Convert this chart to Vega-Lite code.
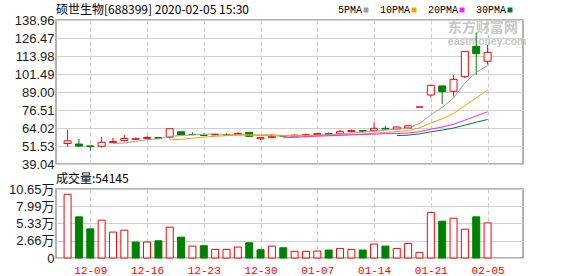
{
  "$schema": "https://vega.github.io/schema/vega-lite/v6.json",
  "padding": {"left": 5, "top": 3, "right": 5, "bottom": 0},
  "background": "white",
  "config": {
    "view": {"stroke": "#999999", "strokeWidth": 1.5},
    "axis": {"gridColor": "#d0d0d0", "gridWidth": 1, "domain": false, "ticks": false, "title": null, "labelFlush": false, "labelOverlap": false},
    "title": {"anchor": "start", "font": "Noto Sans CJK SC", "fontSize": 12, "fontWeight": "normal", "color": "#000000", "frame": "group"}
  },
  "datasets": {
    "k": [
      {"i": 0, "d": "12-05", "o": 53.2, "h": 63.0, "l": 51.0, "c": 55.1, "dir": "up", "v": 98300, "vdir": "up"},
      {"i": 1, "d": "12-06", "o": 52.9, "h": 56.5, "l": 50.8, "c": 51.5, "dir": "down", "v": 63500, "vdir": "down"},
      {"i": 2, "d": "12-09", "o": 51.6, "h": 51.6, "l": 48.2, "c": 51.1, "dir": "down", "v": 45000, "vdir": "down"},
      {"i": 3, "d": "12-10", "o": 51.3, "h": 57.9, "l": 50.4, "c": 54.1, "dir": "up", "v": 58400, "vdir": "up"},
      {"i": 4, "d": "12-11", "o": 53.9, "h": 57.2, "l": 53.9, "c": 54.6, "dir": "up", "v": 40000, "vdir": "up"},
      {"i": 5, "d": "12-12", "o": 55.3, "h": 59.1, "l": 54.6, "c": 56.7, "dir": "up", "v": 43000, "vdir": "up"},
      {"i": 6, "d": "12-13", "o": 56.2, "h": 57.3, "l": 55.8, "c": 56.6, "dir": "up", "v": 24600, "vdir": "down"},
      {"i": 7, "d": "12-16", "o": 56.8, "h": 58.4, "l": 56.5, "c": 57.4, "dir": "up", "v": 24600, "vdir": "up"},
      {"i": 8, "d": "12-17", "o": 57.4, "h": 57.5, "l": 56.8, "c": 56.9, "dir": "down", "v": 26600, "vdir": "down"},
      {"i": 9, "d": "12-18", "o": 57.7, "h": 63.6, "l": 56.7, "c": 63.5, "dir": "up", "v": 47600, "vdir": "up"},
      {"i": 10, "d": "12-19", "o": 61.4, "h": 61.4, "l": 59.3, "c": 59.3, "dir": "down", "v": 32200, "vdir": "down"},
      {"i": 11, "d": "12-20", "o": 59.6, "h": 61.0, "l": 59.3, "c": 59.4, "dir": "down", "v": 18400, "vdir": "up"},
      {"i": 12, "d": "12-23", "o": 59.0, "h": 60.3, "l": 58.7, "c": 58.9, "dir": "down", "v": 19000, "vdir": "down"},
      {"i": 13, "d": "12-24", "o": 59.2, "h": 59.6, "l": 59.2, "c": 59.5, "dir": "up", "v": 13300, "vdir": "up"},
      {"i": 14, "d": "12-25", "o": 59.4, "h": 60.3, "l": 59.1, "c": 59.2, "dir": "down", "v": 13300, "vdir": "up"},
      {"i": 15, "d": "12-26", "o": 59.5, "h": 61.0, "l": 59.5, "c": 60.3, "dir": "up", "v": 16900, "vdir": "up"},
      {"i": 16, "d": "12-27", "o": 61.0, "h": 61.0, "l": 58.2, "c": 58.2, "dir": "down", "v": 23500, "vdir": "down"},
      {"i": 17, "d": "12-30", "o": 56.5, "h": 57.3, "l": 55.7, "c": 57.3, "dir": "up", "v": 12800, "vdir": "down"},
      {"i": 18, "d": "12-31", "o": 57.3, "h": 59.9, "l": 57.3, "c": 58.2, "dir": "up", "v": 18400, "vdir": "up"},
      {"i": 19, "d": "01-02", "o": 58.6, "h": 58.9, "l": 58.0, "c": 58.3, "dir": "down", "v": 15800, "vdir": "down"},
      {"i": 20, "d": "01-03", "o": 58.3, "h": 59.4, "l": 58.2, "c": 59.1, "dir": "up", "v": 10300, "vdir": "up"},
      {"i": 21, "d": "01-06", "o": 58.5, "h": 60.1, "l": 58.4, "c": 59.4, "dir": "up", "v": 10300, "vdir": "up"},
      {"i": 22, "d": "01-07", "o": 59.4, "h": 60.1, "l": 59.3, "c": 60.1, "dir": "up", "v": 10800, "vdir": "up"},
      {"i": 23, "d": "01-08", "o": 60.1, "h": 60.8, "l": 59.2, "c": 59.6, "dir": "down", "v": 12300, "vdir": "down"},
      {"i": 24, "d": "01-09", "o": 60.1, "h": 62.9, "l": 59.8, "c": 61.5, "dir": "up", "v": 14800, "vdir": "up"},
      {"i": 25, "d": "01-10", "o": 61.5, "h": 62.9, "l": 61.0, "c": 62.2, "dir": "up", "v": 13300, "vdir": "up"},
      {"i": 26, "d": "01-13", "o": 62.2, "h": 62.2, "l": 61.0, "c": 61.9, "dir": "down", "v": 12300, "vdir": "down"},
      {"i": 27, "d": "01-14", "o": 62.2, "h": 67.9, "l": 61.7, "c": 63.8, "dir": "up", "v": 21500, "vdir": "up"},
      {"i": 28, "d": "01-15", "o": 63.8, "h": 65.6, "l": 62.9, "c": 63.3, "dir": "down", "v": 18400, "vdir": "down"},
      {"i": 29, "d": "01-16", "o": 63.3, "h": 65.2, "l": 63.3, "c": 64.7, "dir": "up", "v": 14800, "vdir": "up"},
      {"i": 30, "d": "01-17", "o": 64.0, "h": 66.3, "l": 63.8, "c": 65.5, "dir": "up", "v": 22500, "vdir": "up"},
      {"i": 31, "d": "01-20", "o": 78.6, "h": 78.6, "l": 78.6, "c": 78.6, "dir": "up", "v": 8700, "vdir": "up"},
      {"i": 32, "d": "01-21", "o": 86.9, "h": 93.7, "l": 85.3, "c": 93.6, "dir": "up", "v": 70100, "vdir": "up"},
      {"i": 33, "d": "01-22", "o": 93.2, "h": 93.2, "l": 80.7, "c": 89.2, "dir": "down", "v": 56800, "vdir": "down"},
      {"i": 34, "d": "01-23", "o": 89.5, "h": 100.8, "l": 85.8, "c": 97.8, "dir": "up", "v": 61400, "vdir": "up"},
      {"i": 35, "d": "02-03", "o": 99.6, "h": 117.2, "l": 98.7, "c": 117.2, "dir": "up", "v": 44500, "vdir": "up"},
      {"i": 36, "d": "02-04", "o": 120.7, "h": 130.4, "l": 100.8, "c": 115.6, "dir": "down", "v": 63500, "vdir": "down"},
      {"i": 37, "d": "02-05", "o": 110.3, "h": 121.6, "l": 108.0, "c": 116.5, "dir": "up", "v": 54145, "vdir": "up"}
    ],
    "ma": [
      {"i": 4, "5PMA": 53.28},
      {"i": 5, "5PMA": 53.61},
      {"i": 6, "5PMA": 54.64},
      {"i": 7, "5PMA": 55.90},
      {"i": 8, "5PMA": 56.44},
      {"i": 9, "5PMA": 58.22, "10PMA": 55.75},
      {"i": 10, "5PMA": 58.74, "10PMA": 56.17},
      {"i": 11, "5PMA": 59.28, "10PMA": 56.96},
      {"i": 12, "5PMA": 59.58, "10PMA": 57.74},
      {"i": 13, "5PMA": 60.08, "10PMA": 58.26},
      {"i": 14, "5PMA": 59.22, "10PMA": 58.72},
      {"i": 15, "5PMA": 59.40, "10PMA": 59.07},
      {"i": 16, "5PMA": 59.14, "10PMA": 59.21},
      {"i": 17, "5PMA": 58.84, "10PMA": 59.21},
      {"i": 18, "5PMA": 58.60, "10PMA": 59.34},
      {"i": 19, "5PMA": 58.42, "10PMA": 58.82, "20PMA": 57.28},
      {"i": 20, "5PMA": 58.20, "10PMA": 58.80, "20PMA": 57.49},
      {"i": 21, "5PMA": 58.46, "10PMA": 58.80, "20PMA": 57.88},
      {"i": 22, "5PMA": 59.00, "10PMA": 58.92, "20PMA": 58.33},
      {"i": 23, "5PMA": 59.30, "10PMA": 58.95, "20PMA": 58.61},
      {"i": 24, "5PMA": 59.94, "10PMA": 59.18, "20PMA": 58.95},
      {"i": 25, "5PMA": 60.56, "10PMA": 59.38, "20PMA": 59.23},
      {"i": 26, "5PMA": 61.06, "10PMA": 59.76, "20PMA": 59.49},
      {"i": 27, "5PMA": 61.80, "10PMA": 60.40, "20PMA": 59.81},
      {"i": 28, "5PMA": 62.54, "10PMA": 60.92, "20PMA": 60.13},
      {"i": 29, "5PMA": 63.18, "10PMA": 61.56, "20PMA": 60.19, "30PMA": 58.71},
      {"i": 30, "5PMA": 63.84, "10PMA": 62.20, "20PMA": 60.50, "30PMA": 59.06},
      {"i": 31, "5PMA": 67.18, "10PMA": 64.12, "20PMA": 61.46, "30PMA": 59.96},
      {"i": 32, "5PMA": 73.14, "10PMA": 67.47, "20PMA": 63.20, "30PMA": 61.38},
      {"i": 33, "5PMA": 78.32, "10PMA": 70.43, "20PMA": 64.69, "30PMA": 62.55},
      {"i": 34, "5PMA": 84.94, "10PMA": 74.06, "20PMA": 66.62, "30PMA": 63.99},
      {"i": 35, "5PMA": 95.28, "10PMA": 79.56, "20PMA": 69.47, "30PMA": 66.00},
      {"i": 36, "5PMA": 102.68, "10PMA": 84.93, "20PMA": 72.35, "30PMA": 67.97},
      {"i": 37, "5PMA": 107.26, "10PMA": 90.20, "20PMA": 75.30, "30PMA": 69.94}
    ],
    "wm": [{"t": "东方财富网", "s": "eastmoney.com"}]
  },
  "resolve": {"scale": {"y": "independent"}},
  "spacing": 0,
  "vconcat": [
    {
      "width": 467,
      "height": 144,
      "title": {"text": "硕世生物[688399] 2020-02-05 15:30", "offset": -3},
      "data": {"name": "k"},
      "layer": [
        {
          "data": {"name": "wm"},
          "mark": {"type": "text", "font": "Noto Sans CJK SC", "fontSize": 14, "fontWeight": "bold", "align": "left", "baseline": "middle"},
          "encoding": {
            "text": {"field": "t", "type": "nominal"},
            "x": {"datum": 33.5, "type": "quantitative"},
            "y": {"datum": 133.4, "type": "quantitative"},
            "color": {"value": "#c8c8c8"}
          }
        },
        {
          "data": {"name": "wm"},
          "mark": {"type": "text", "font": "Liberation Sans", "fontSize": 10.5, "fontWeight": "bold", "align": "left", "baseline": "middle"},
          "encoding": {
            "text": {"field": "s", "type": "nominal"},
            "x": {"datum": 33.5, "type": "quantitative"},
            "y": {"datum": 123.6, "type": "quantitative"},
            "color": {"value": "#c8c8c8"}
          }
        },
        {
          "mark": {"type": "rule", "strokeWidth": 1},
          "encoding": {
            "x": {
              "field": "i", "type": "quantitative",
              "scale": {"domain": [-0.58, 39.68], "nice": false, "zero": false},
              "axis": {"values": [2, 7, 12, 17, 22, 27, 32, 37], "tickCount": 8, "labels": false, "grid": true, "gridDash": [4, 3], "gridColor": "#cccccc", "labelPadding": 0, "maxExtent": 0, "minExtent": 0}
            },
            "y": {
              "field": "l", "type": "quantitative",
              "scale": {"domain": [39.04, 138.96], "nice": false, "zero": false},
              "axis": {"values": [39.04, 51.53, 64.02, 76.51, 89, 101.49, 113.98, 126.47, 138.96], "tickCount": 9, "labelExpr": "format(datum.value, '.2f')", "labelFont": "Liberation Sans", "labelFontSize": 13, "labelColor": "#1a1a1a", "grid": true, "gridColor": "#d0d0d0", "minExtent": 50, "maxExtent": 50, "labelPadding": 2, "labelOverlap": false, "labelFlush": false}
            },
            "y2": {"field": "h"},
            "stroke": {"field": "dir", "type": "nominal", "scale": {"domain": ["up", "down"], "range": ["#ff0000", "#008000"]}, "legend": null}
          }
        },
        {
          "mark": {"type": "bar", "width": 7, "strokeWidth": 1},
          "encoding": {
            "x": {"field": "i", "type": "quantitative"},
            "y": {"field": "o", "type": "quantitative"},
            "y2": {"field": "c"},
            "fill": {"field": "dir", "type": "nominal", "scale": {"domain": ["up", "down"], "range": ["#ffffff", "#008000"]}, "legend": null},
            "stroke": {"field": "dir", "type": "nominal", "legend": null}
          }
        },
        {
          "data": {"name": "ma"},
          "transform": [
            {"fold": ["5PMA", "10PMA", "20PMA", "30PMA"], "as": ["key", "val"]},
            {"filter": "isValid(datum.val)"}
          ],
          "mark": {"type": "line", "strokeWidth": 1},
          "encoding": {
            "x": {"field": "i", "type": "quantitative"},
            "y": {"field": "val", "type": "quantitative"},
            "color": {
              "field": "key", "type": "nominal",
              "scale": {"domain": ["5PMA", "10PMA", "20PMA", "30PMA"], "range": ["#a0a0a0", "#f5a300", "#ff22ff", "#007a33"]},
              "legend": {
                "orient": "none", "legendX": 305, "legendY": -15, "direction": "horizontal", "title": null,
                "symbolType": "square", "symbolSize": 25, "symbolStrokeWidth": 0,
                "labelFont": "Liberation Mono", "labelFontSize": 10, "labelColor": "#000000",
                "labelAlign": "right", "labelOffset": -9, "columnPadding": 10,
                "encode": {"symbols": {"update": {"fill": {"scale": "color", "field": "value"}, "fillOpacity": {"value": 1}}}}
              }
            }
          }
        }
      ]
    },
    {
      "width": 467,
      "height": 69,
      "title": {"text": "成交量:54145", "offset": -3},
      "data": {"name": "k"},
      "mark": {"type": "bar", "width": 7, "strokeWidth": 1},
      "encoding": {
        "x": {
          "field": "i", "type": "quantitative",
          "scale": {"domain": [-0.58, 39.68], "nice": false, "zero": false},
          "axis": {
            "values": [2, 7, 12, 17, 22, 27, 32, 37], "tickCount": 8,
            "labelExpr": "datum.value == 2 ? '12-09' : datum.value == 7 ? '12-16' : datum.value == 12 ? '12-23' : datum.value == 17 ? '12-30' : datum.value == 22 ? '01-07' : datum.value == 27 ? '01-14' : datum.value == 32 ? '01-21' : '02-05'",
            "labelColor": "#ff0000", "labelFont": "Liberation Mono", "labelFontSize": 11, "labelPadding": 6,
            "grid": true, "gridDash": [4, 3], "gridColor": "#cccccc"
          }
        },
        "y": {
          "field": "v", "type": "quantitative",
          "scale": {"domain": [0, 106500], "nice": false, "zero": true},
          "axis": {"values": [0, 26600, 53300, 79900, 106500], "tickCount": 5, "labelExpr": "datum.value == 0 ? '0' : format(datum.value / 10000, '.2f') + '万'", "labelFont": "Liberation Sans, Noto Sans CJK SC", "labelFontSize": 13, "labelColor": "#1a1a1a", "grid": true, "gridColor": "#d0d0d0", "minExtent": 50, "maxExtent": 50, "labelPadding": 2}
        },
        "fill": {"field": "vdir", "type": "nominal", "scale": {"domain": ["up", "down"], "range": ["#ffffff", "#008000"]}, "legend": null},
        "stroke": {"field": "vdir", "type": "nominal", "scale": {"domain": ["up", "down"], "range": ["#ff0000", "#008000"]}, "legend": null}
      }
    }
  ]
}
